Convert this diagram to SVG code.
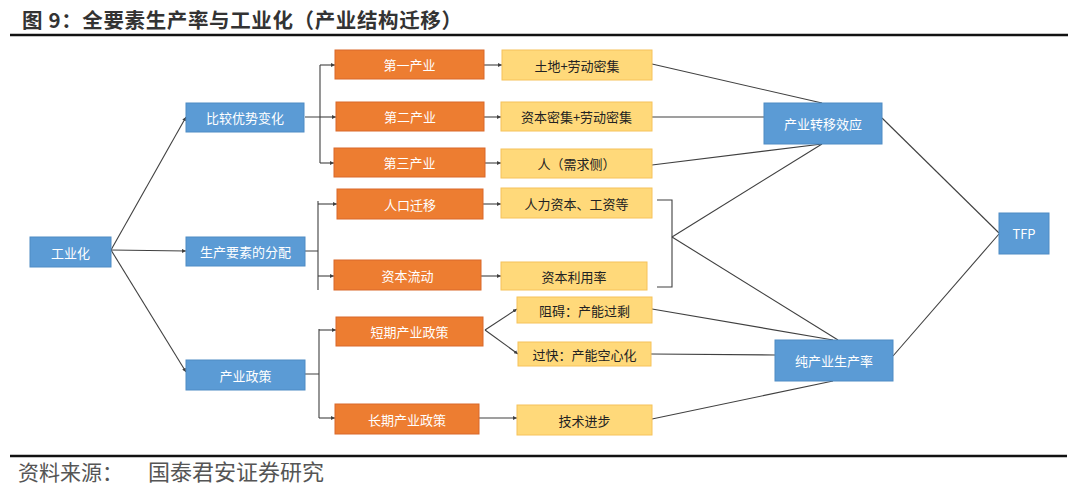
<svg xmlns="http://www.w3.org/2000/svg" width="1080" height="496" viewBox="0 0 1080 496">
<style>
.t{font-family:"Noto Sans CJK SC","Liberation Sans",sans-serif;}
.blue{fill:#5B9BD5;stroke:#4F8BC4;stroke-width:1}
.orange{fill:#ED7D31;stroke:#D9692A;stroke-width:1}
.yellow{fill:#FFD97A;stroke:#F6C25A;stroke-width:1}
.wt{font-family:"Noto Sans CJK SC","Liberation Sans",sans-serif;font-size:13px;fill:#FFFFFF;text-anchor:middle;dominant-baseline:central}
.dt{font-family:"Noto Sans CJK SC","Liberation Sans",sans-serif;font-size:13px;fill:#222222;text-anchor:middle;dominant-baseline:central}
.c{fill:none;stroke:#404040;stroke-width:1.1}
</style>
<defs>
<marker id="ah" viewBox="0 0 6 6" refX="6" refY="3" markerWidth="4" markerHeight="4" orient="auto" markerUnits="userSpaceOnUse">
<path d="M0,0 L6,3 L0,6 z" fill="#404040"/>
</marker>
</defs>
<rect width="1080" height="496" fill="#FFFFFF"/>
<g id="title">
<text class="t" x="22" y="28" font-size="20.5" font-weight="bold" fill="#333333" textLength="440" lengthAdjust="spacing">图 9：全要素生产率与工业化（产业结构迁移）</text>
<line x1="10" y1="35" x2="1068" y2="35" stroke="#111111" stroke-width="2.5"/>
</g>
<g id="connectors">
<path class="c" d="M111,250 L186,117" marker-end="url(#ah)"/>
<path class="c" d="M111,250 L186,251" marker-end="url(#ah)"/>
<path class="c" d="M111,250 L186,372" marker-end="url(#ah)"/>
<path class="c" d="M305,117 L320,117 M320,65 L320,163"/>
<path class="c" d="M320,65 L335,65" marker-end="url(#ah)"/>
<path class="c" d="M320,117 L336,117" marker-end="url(#ah)"/>
<path class="c" d="M320,163 L334,163" marker-end="url(#ah)"/>
<path class="c" d="M305,251 L318,251 M318,201 L318,290"/>
<path class="c" d="M318,204 L337,204" marker-end="url(#ah)"/>
<path class="c" d="M318,276 L334,276" marker-end="url(#ah)"/>
<path class="c" d="M305,374 L319,374 M319,329 L319,418"/>
<path class="c" d="M319,330 L336,330" marker-end="url(#ah)"/>
<path class="c" d="M319,418 L335,418" marker-end="url(#ah)"/>
<path class="c" d="M484,65 L502,65" marker-end="url(#ah)"/>
<path class="c" d="M484,117 L501,117" marker-end="url(#ah)"/>
<path class="c" d="M485,163 L501,163" marker-end="url(#ah)"/>
<path class="c" d="M483,204 L501,204" marker-end="url(#ah)"/>
<path class="c" d="M481,276 L501,276" marker-end="url(#ah)"/>
<path class="c" d="M479,418 L517,418" marker-end="url(#ah)"/>
<path class="c" d="M485,330 L517,309" marker-end="url(#ah)"/>
<path class="c" d="M485,330 L518,354" marker-end="url(#ah)"/>
<path class="c" d="M652,64 L822,103"/>
<path class="c" d="M652,117 L764,117"/>
<path class="c" d="M652,165 L822,144"/>
<path class="c" d="M657,200 L672,200 L672,287 L657,287"/>
<path class="c" d="M672,237 L822,144"/>
<path class="c" d="M672,237 L838,340"/>
<path class="c" d="M652,309 L833,340"/>
<path class="c" d="M651,354 L775,355"/>
<path class="c" d="M652,419 L833,381"/>
<path class="c" d="M882,118 L999,233"/>
<path class="c" d="M893,356 L999,234"/>
</g>
<g id="n-gyh"><rect class="blue" x="30" y="237" width="81" height="30"/><text class="wt" x="70.5" y="252">工业化</text></g>
<g id="n-bjys"><rect class="blue" x="186" y="103" width="118" height="29"/><text class="wt" x="245" y="117.5">比较优势变化</text></g>
<g id="n-scys"><rect class="blue" x="186" y="237" width="119" height="29"/><text class="wt" x="245.5" y="251.5">生产要素的分配</text></g>
<g id="n-cyzc"><rect class="blue" x="186" y="360" width="119" height="30"/><text class="wt" x="245.5" y="375">产业政策</text></g>
<g id="n-cyzy"><rect class="blue" x="764" y="103" width="118" height="41"/><text class="wt" x="823" y="123.5">产业转移效应</text></g>
<g id="n-tfp"><rect class="blue" x="999" y="213" width="50" height="41"/><text class="wt" x="1024" y="233.5">TFP</text></g>
<g id="n-ccy"><rect class="blue" x="775" y="340" width="118" height="41"/><text class="wt" x="834" y="360.5">纯产业生产率</text></g>
<g id="n-dy"><rect class="orange" x="335" y="50" width="149" height="29"/><text class="wt" x="409.5" y="64.5">第一产业</text></g>
<g id="n-de"><rect class="orange" x="336" y="102" width="148" height="29"/><text class="wt" x="410" y="116.5">第二产业</text></g>
<g id="n-ds"><rect class="orange" x="334" y="148" width="151" height="29"/><text class="wt" x="409.5" y="162.5">第三产业</text></g>
<g id="n-rkqy"><rect class="orange" x="337" y="189" width="146" height="30"/><text class="wt" x="410" y="204">人口迁移</text></g>
<g id="n-zbld"><rect class="orange" x="334" y="260" width="147" height="30"/><text class="wt" x="407.5" y="275">资本流动</text></g>
<g id="n-dq"><rect class="orange" x="336" y="317" width="147" height="29"/><text class="wt" x="409.5" y="331.5">短期产业政策</text></g>
<g id="n-cq"><rect class="orange" x="335" y="404" width="144" height="30"/><text class="wt" x="407" y="419">长期产业政策</text></g>
<g id="n-tdld"><rect class="yellow" x="502" y="50" width="150" height="30"/><text class="dt" x="577" y="65">土地+劳动密集</text></g>
<g id="n-zbmj"><rect class="yellow" x="501" y="102" width="151" height="29"/><text class="dt" x="576.5" y="116.5">资本密集+劳动密集</text></g>
<g id="n-ren"><rect class="yellow" x="501" y="149" width="151" height="29"/><text class="dt" x="576.5" y="163.5">人（需求侧）</text></g>
<g id="n-rlzb"><rect class="yellow" x="501" y="188" width="151" height="30"/><text class="dt" x="576.5" y="203">人力资本、工资等</text></g>
<g id="n-zbly"><rect class="yellow" x="501" y="262" width="146" height="28"/><text class="dt" x="574" y="276">资本利用率</text></g>
<g id="n-za"><rect class="yellow" x="517" y="297" width="135" height="26"/><text class="dt" x="584.5" y="310">阻碍：产能过剩</text></g>
<g id="n-gk"><rect class="yellow" x="518" y="342" width="133" height="24"/><text class="dt" x="584.5" y="354">过快：产能空心化</text></g>
<g id="n-jsjb"><rect class="yellow" x="517" y="405" width="135" height="30"/><text class="dt" x="584.5" y="420">技术进步</text></g>
<g id="footer">
<line x1="10" y1="456" x2="1067" y2="456" stroke="#111111" stroke-width="2.5"/>
<text class="t" x="18" y="480" font-size="21" fill="#555555">资料来源：</text>
<text class="t" x="148" y="480" font-size="22" fill="#555555">国泰君安证券研究</text>
</g>
</svg>
